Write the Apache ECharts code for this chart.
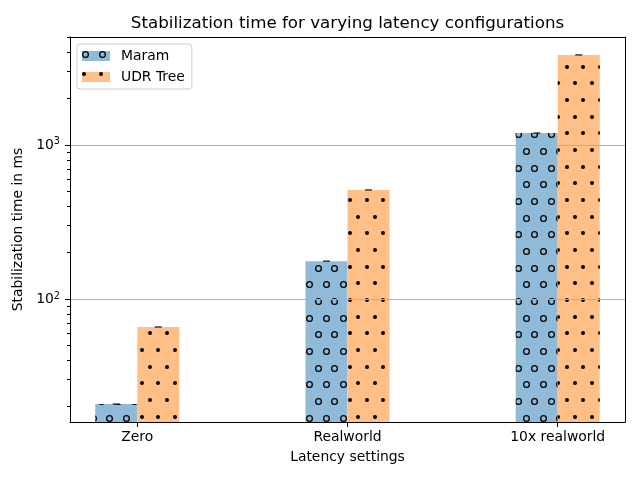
<!DOCTYPE html>
<html><head><meta charset="utf-8">
<script src="https://cdn.jsdelivr.net/npm/echarts@6/dist/echarts.min.js"></script>
<style>html,body{margin:0;padding:0;background:#fff;overflow:hidden}#c{position:absolute;left:-2px;top:-2px;width:642px;height:482px}</style>
</head><body><div id="c"></div>
<script>
// ---- data ----
const categories = ['Zero', 'Realworld', '10x realworld'];
const seriesNames = ['Maram', 'UDR Tree'];
const maram = [20.8, 176, 1195];
const udrTree = [65.8, 510, 3840];
const majorTicks = [100, 1000];
const minorTicks = [20, 30, 40, 50, 60, 70, 80, 90, 200, 300, 400, 500, 600, 700, 800, 900, 2000, 3000, 4000, 5000];
const yMin = 15.9, yMax = 5020;

// ---- layout / style ----
// (canvas is shifted by -2px so the hatch lattice lines up; layout offsets add 2px back)
const SH = 2;
const FONT = 'DejaVu Sans';
const barOffset = 0.1;
const ring = 'path://M0,-10A10,10 0 1,1 0,10A10,10 0 1,1 0,-10ZM0,-6.3A6.3,6.3 0 1,0 0,6.3A6.3,6.3 0 1,0 0,-6.3Z';
function decal(symbol, d) {
  const A = [d, 17 - d, d, 16 - d, d, 17 - d];
  const B = [0, 8, d, 17 - d, d, 17 - d, d, 8 - d];
  return {
    symbol: symbol, symbolSize: 1, symbolKeepAspect: true, color: '#000',
    dashArrayX: [B, A], dashArrayY: [d, 17 - d, d, 16 - d, d, 17 - d], rotation: 0
  };
}
const maramDecal = decal(ring, 7);
const udrDecal = decal('circle', 4);

const chart = echarts.init(document.getElementById('c'), null, { renderer: 'canvas' });
const textBase = { fontFamily: FONT, color: '#000' };
const gridRect = { left: 70 + SH, right: 15, top: 37 + SH, bottom: 58, containLabel: false };

const option = {
  animation: false,
  backgroundColor: '#fff',
  textStyle: { fontFamily: FONT },
  title: {
    text: 'Stabilization time for varying latency configurations',
    left: 347.5 + SH, top: 15 + SH, textAlign: 'center', padding: 0,
    textStyle: Object.assign({ fontSize: 16.7, fontWeight: 'normal' }, textBase)
  },
  legend: {
    data: seriesNames,
    orient: 'vertical', left: 77 + SH, top: 44 + SH,
    itemWidth: 28, itemHeight: 10, itemGap: 7,
    padding: [5, 7, 5, 5],
    backgroundColor: 'rgba(255,255,255,0.8)',
    borderColor: '#cccccc', borderWidth: 1, borderRadius: 3,
    icon: 'rect',
    textStyle: Object.assign({ fontSize: 13.9, lineHeight: 14, padding: [0, 0, 0, 6] }, textBase)
  },
  grid: [Object.assign({}, gridRect), Object.assign({}, gridRect)],
  xAxis: [{
    type: 'value', min: -0.32, max: 2.32, z: 4, gridIndex: 0,
    name: 'Latency settings', nameLocation: 'middle', nameGap: 28,
    nameTextStyle: Object.assign({ fontSize: 13.9 }, textBase),
    axisLine: { show: true, onZero: false, lineStyle: { color: '#000', width: 1 } },
    axisTick: { show: true, length: 5, customValues: categories.map((c, i) => i), lineStyle: { color: '#000' } },
    axisLabel: { customValues: categories.map((c, i) => i), formatter: v => categories[Math.round(v)], fontSize: 13.9, margin: 8, color: '#000', fontFamily: FONT },
    splitLine: { show: false }
  }, {
    type: 'value', min: -0.32, max: 2.32, position: 'top', z: 4, gridIndex: 0,
    axisLine: { show: true, onZero: false, lineStyle: { color: '#000', width: 1 } },
    axisTick: { show: false }, axisLabel: { show: false }, splitLine: { show: false }
  }, {
    type: 'value', min: -0.32, max: 2.32, gridIndex: 1, show: false
  }],
  yAxis: [{
    type: 'log', logBase: 10, min: yMin, max: yMax, z: 3, position: 'left', gridIndex: 0,
    name: 'Stabilization time in ms', nameLocation: 'middle', nameGap: 42,
    nameTextStyle: Object.assign({ fontSize: 13.9 }, textBase),
    axisLine: { show: true, onZero: false, lineStyle: { color: '#000', width: 1 } },
    axisTick: { show: true, length: 5, customValues: majorTicks, lineStyle: { color: '#000' } },
    axisLabel: {
      customValues: majorTicks, margin: 10,
      formatter: v => '{b|10}{s|' + Math.round(Math.log10(v)) + '}',
      rich: {
        b: { fontSize: 13.9, fontFamily: FONT, color: '#000', lineHeight: 16 },
        s: { fontSize: 9.7, fontFamily: FONT, color: '#000', lineHeight: 11, verticalAlign: 'top' }
      }
    },
    splitLine: { show: true, lineStyle: { color: '#b0b0b0', width: 1 } }
  }, {
    type: 'log', logBase: 10, min: yMin, max: yMax, position: 'right', z: 4, gridIndex: 0,
    axisLine: { show: true, onZero: false, lineStyle: { color: '#000', width: 1 } },
    axisTick: { show: false }, axisLabel: { show: false }, splitLine: { show: false }
  }, {
    type: 'log', logBase: 10, min: yMin, max: yMax, position: 'left', z: 3, gridIndex: 1,
    axisLine: { show: false, onZero: false },
    axisTick: { show: true, length: 3, customValues: minorTicks, lineStyle: { color: '#000' } },
    axisLabel: { show: false }, splitLine: { show: false }
  }],
  series: [{
    name: seriesNames[0], type: 'bar', barWidth: 42, barGap: '-100%',
    xAxisIndex: 0, yAxisIndex: 0,
    data: categories.map((c, i) => [i - barOffset, maram[i]]),
    itemStyle: { color: '#8fbbd9', decal: maramDecal }
  }, {
    name: seriesNames[1], type: 'bar', barWidth: 42, barGap: '-100%',
    xAxisIndex: 0, yAxisIndex: 0,
    data: categories.map((c, i) => [i + barOffset, udrTree[i]]),
    itemStyle: { color: '#ffbf86', decal: udrDecal }
  }, {
    type: 'scatter', symbol: 'rect', symbolSize: [7, 1.4], z: 5, silent: true,
    xAxisIndex: 0, yAxisIndex: 0,
    itemStyle: { color: '#000' },
    data: categories.map((c, i) => [i - barOffset, maram[i]])
      .concat(categories.map((c, i) => [i + barOffset, udrTree[i]]))
  }]
};
chart.setOption(option);
</script>
</body></html>
